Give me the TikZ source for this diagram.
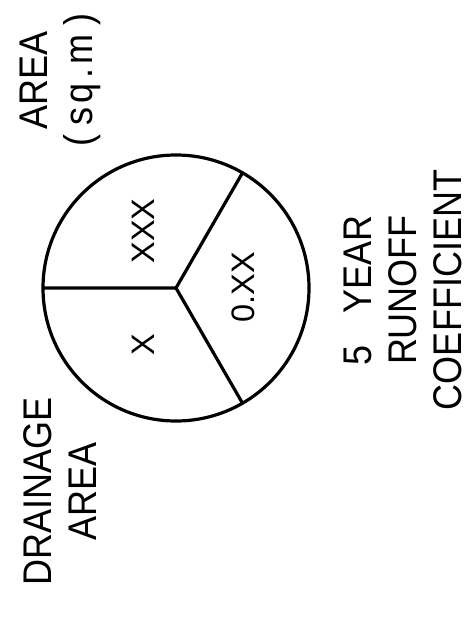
\documentclass[tikz,border=0pt]{standalone}
\usepackage{fontspec}
\newfontfamily\cadfont[FakeStretch=0.9]{Liberation Sans}
\newfontfamily\cadsmall{Liberation Sans}
\begin{document}
\begin{tikzpicture}[x=1pt,y=-1pt,
  big/.style={font=\cadfont\fontsize{40}{45}\selectfont, rotate=90, align=center, inner sep=0pt},
  small/.style={font=\cadsmall\fontsize{32.5}{36}\selectfont, rotate=90, inner sep=0pt},
  edge/.style={line width=3.2pt}]
\useasboundingbox (0,0) rectangle (472,618);
\coordinate (c) at (176,288);
\draw[edge] (c) circle[radius=133];
\coordinate (pl) at (43,288);
\coordinate (pu) at (242.5,172.8);
\coordinate (pd) at (242.5,403.2);
\draw[edge, line join=round] (pl) -- (c) -- (pu);
\draw[edge] (c) -- (pd);
\node[small] (xxx) at (143,231) {XXX};
\node[small] (x) at (143,345) {X};
\node[small] (coef) at (243,287) {0.XX};
\node[big] (area) at (60,80) {AREA\\(\hspace{0.25em}s\hspace{0.1em}q\hspace{0.1em}.\hspace{0.1em}m\hspace{0.25em})};
\node[big] (drain) at (60,491) {DRAINAGE\\AREA};
\node[big] (runoff) at (403,290) {5\hspace{0.8em}YEAR\\RUNOFF\\COEFFICIENT};
\end{tikzpicture}
\end{document}
